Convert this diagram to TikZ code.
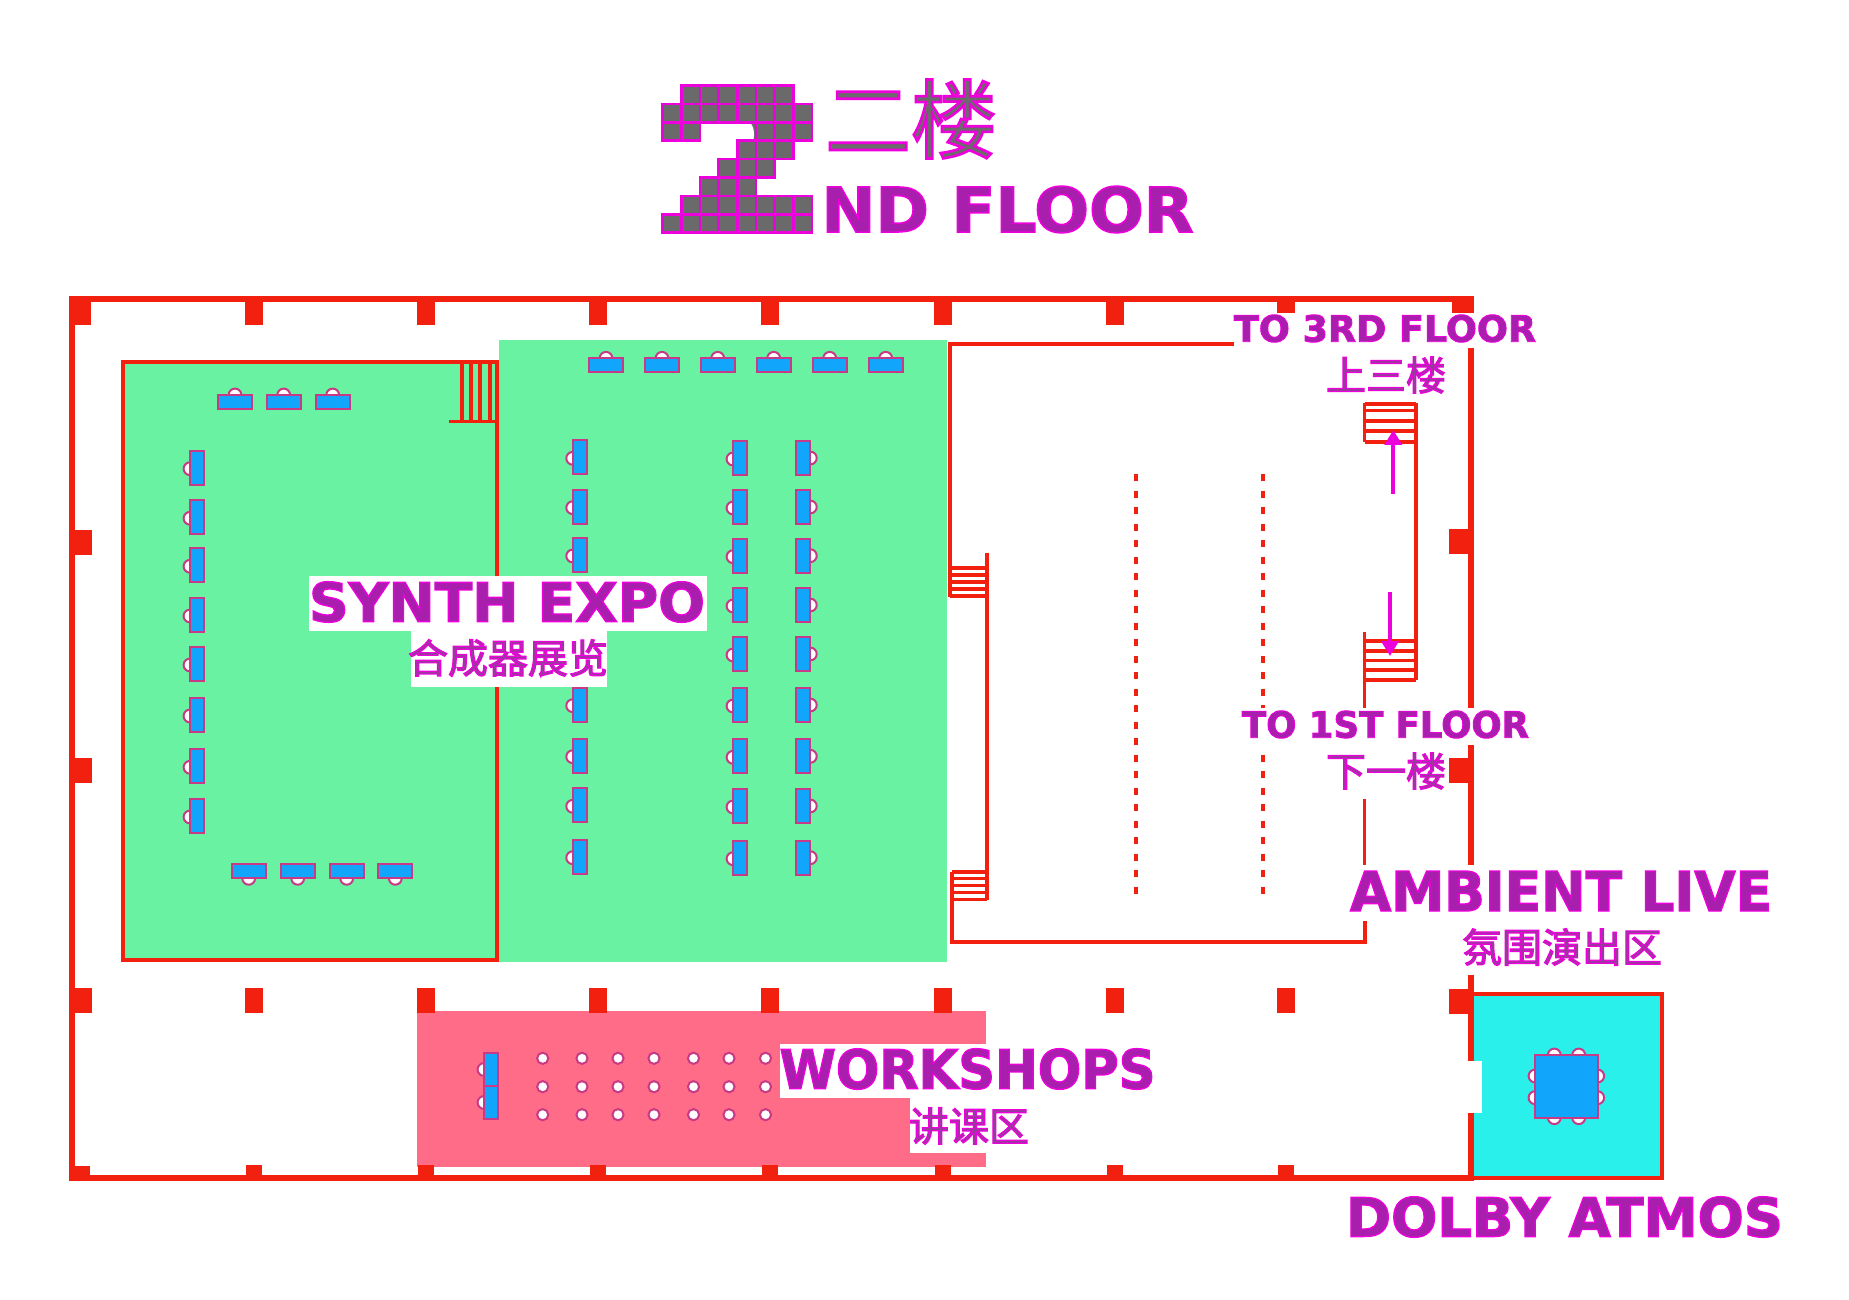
\documentclass[tikz,border=0pt]{standalone}
\usepackage{fontspec}
\usepackage{graphicx}
\usetikzlibrary{arrows.meta}
\newfontfamily\pixfont[FakeBold=2.5]{DejaVu Sans Bold}
\newfontfamily\cjkfont[FakeBold=3]{Noto Sans CJK SC}
\newfontfamily\plainfont{DejaVu Sans}
\definecolor{wallred}{HTML}{F2200F}
\definecolor{expogreen}{HTML}{68F2A2}
\definecolor{workpink}{HTML}{FF6C87}
\definecolor{atmoscyan}{HTML}{2AF0EC}
\definecolor{deskblue}{HTML}{12A5FC}
\definecolor{deskedge}{HTML}{C93A86}
\definecolor{pixmag}{HTML}{EC00DC}
\definecolor{pixgray}{HTML}{6A6A6A}
\newcommand{\pixpaint}[1]{\special{pdf:bcolor [0.66 0.12 0.68] [0.93 0 0.86]}#1\special{pdf:ecolor}}
\newcommand{\cjkpaint}[1]{\special{pdf:bcolor [0.58 0.24 0.60] [0.93 0 0.86]}#1\special{pdf:ecolor}}
\newcommand{\titlepaint}[1]{\special{pdf:bcolor [0.42 0.42 0.42] [0.93 0 0.86]}#1\special{pdf:ecolor}}
\newcommand{\pixbox}[3]{\resizebox{#1}{#2}{\pixfont\pixpaint{#3}}}
\tikzset{
	wall_line/.style = {
		draw=wallred,
		line width=3pt,
		line join=miter
	},
	room_line/.style = {
		draw=wallred,
		line width=2pt
	},
	stair_line/.style = {
		draw=wallred,
		line width=1.8pt
	},
	dash_line/.style = {
		draw=wallred,
		line width=2pt,
		dash pattern=on 3.5pt off 4.75pt
	},
	pillar/.style = {
		fill=wallred
	},
	desk_top/.style = {
		draw=deskedge,
		fill=deskblue,
		line width=1pt
	},
	chair/.style = {
		draw=deskedge,
		fill=white,
		line width=1pt
	},
	pix_cell/.style = {
		draw=pixmag,
		fill=pixgray,
		line width=1.3pt
	},
	label_bg/.style = {
		fill=white
	},
	pix_label/.style = {
		inner sep=0pt,
		anchor=center
	},
	cjk_label/.style = {
		pix_label,
		font=\cjkfont\fontsize{20}{24}\selectfont
	},
	move_arrow/.style = {
		draw=pixmag,
		fill=pixmag,
		line width=2pt,
		-{Triangle[length=7.5pt,width=8.5pt]}
	},
	desk_n/.pic = {
		\draw[chair] (0,-7) circle [radius=3.2pt];
		\draw[desk_top] (-17,-7) rectangle (17,7);
	},
	desk_s/.pic = {
		\draw[chair] (0,7) circle [radius=3.2pt];
		\draw[desk_top] (-17,-7) rectangle (17,7);
	},
	desk_w/.pic = {
		\draw[chair] (-7,1) circle [radius=3.2pt];
		\draw[desk_top] (-7,-17) rectangle (7,17);
	},
	desk_e/.pic = {
		\draw[chair] (7,0) circle [radius=3.2pt];
		\draw[desk_top] (-7,-17) rectangle (7,17);
	},
}
\begin{document}
\begin{tikzpicture}[x=0.5pt,y=-0.5pt]
\useasboundingbox (0,0) rectangle (1849,1300);

\fill[expogreen] (123,362) rectangle (497,960);
\fill[expogreen] (499,340) rectangle (947,962);
\fill[workpink] (416.5,1011) rectangle (986,1167);
\fill[atmoscyan] (1471,994) rectangle (1662,1178);

\draw[wall_line] (72,299) rectangle (1471,1178);
\draw[room_line] (123,362) rectangle (497,960);
\draw[room_line] (1662,994) -- (1662,1178);
\draw[room_line] (1471,994) -- (1664,994);
\draw[room_line] (1471,1178) -- (1664,1178);

\fill[pillar] (69,296) rectangle (90.5,325);
\fill[pillar] (1452,296) rectangle (1474,313);
\foreach \px in {254,426,598,770,943,1115,1286} {
	\fill[pillar] (\px-9.3,296) rectangle (\px+9.3,325);
	\fill[pillar] (\px-9.3,988) rectangle (\px+9.3,1013);
	\fill[pillar] (\px-8.2,1165) rectangle (\px+8.2,1176);
}
\foreach \py in {530,758,988} {
	\fill[pillar] (69,\py) rectangle (91.5,\py+25);
}
\fill[pillar] (69,1166) rectangle (90,1181);
\foreach \py in {529,758,989} {
	\fill[pillar] (1449,\py) rectangle (1470,\py+24.5);
}
\fill[white] (1467,1060.7) rectangle (1481.7,1112.7);

\draw[stair_line] (449,421.7) -- (497,421.7);
\foreach \sx in {461.7,471,480,490} {
	\draw[stair_line] (\sx,362) -- (\sx,421.7);
}

\draw[room_line] (1234,344) -- (950,344) -- (950,597);
\draw[stair_line] (987,552.7) -- (987,900);
\foreach \sy in {568,575,582,589,596} {
	\draw[stair_line] (950,\sy) -- (987,\sy);
}
\foreach \sy in {871.7,878.6,885.6,892.6,899.6} {
	\draw[stair_line] (952,\sy) -- (987,\sy);
}
\draw[room_line] (952,872) -- (952,942.3) -- (1364.5,942.3) -- (1364.5,921);
\draw[stair_line] (1364.5,403) -- (1364.5,442);
\draw[stair_line] (1364.5,632) -- (1364.5,865);
\draw[stair_line] (1415.7,403) -- (1415.7,680);
\foreach \sy in {404,410.7,421,431,442,641,650.7,660.5,670,680} {
	\draw[stair_line] (1364.5,\sy) -- (1415.7,\sy);
}
\foreach \dx in {1136,1263} {
	\draw[dash_line] (\dx,474) -- (\dx,896);
}

\foreach \tx in {235,283.7,332.7} {
	\pic at (\tx,402) {desk_n};
}
\foreach \ty in {467.7,517.3,565.3,615,664,715,766.3,816} {
	\pic at (197,\ty) {desk_w};
}
\foreach \tx in {248.7,297.7,346.7,395.3} {
	\pic at (\tx,871.3) {desk_s};
}
\foreach \tx in {606,662,717.7,773.7,829.7,885.7} {
	\pic at (\tx,365.3) {desk_n};
}
\foreach \ty in {457.3,506.7,555,704.7,755.7,805.3,856.7} {
	\pic at (579.7,\ty) {desk_w};
}
\foreach \ty in {458,507,555.7,605,654,705,756.3,806,857.7} {
	\pic at (740,\ty) {desk_w};
	\pic at (803.3,\ty) {desk_e};
}
\foreach \ty in {1069.5,1102.5} {
	\draw[chair] (484,\ty) circle [radius=3.2pt];
	\draw[desk_top] (484,\ty-16.5) rectangle (498.4,\ty+16.5);
}
\foreach \tx in {542.7,582,618,654,693.5,729,765.5} {
	\foreach \ty in {1058.3,1086.7,1114.7} {
		\draw[chair] (\tx,\ty) circle [radius=2.8pt];
	}
}
\foreach \cs in {1554.3,1578.7} {
	\draw[chair] (\cs,1055) circle [radius=3.2pt];
	\draw[chair] (\cs,1117.7) circle [radius=3.2pt];
}
\foreach \cs in {1076,1097.7} {
	\draw[chair] (1535,\cs) circle [radius=3.2pt];
	\draw[chair] (1597.7,\cs) circle [radius=3.2pt];
}
\draw[desk_top] (1535,1055) rectangle (1597.7,1117.7);

\coordinate (upStart) at (1393.3,494);
\coordinate (upEnd) at (1393.3,430);
\coordinate (downStart) at (1390,592);
\coordinate (downEnd) at (1390,656);
\draw[move_arrow] (upStart) -- (upEnd);
\draw[move_arrow] (downStart) -- (downEnd);

\fill[label_bg] (1234,313) rectangle (1540,348);
\fill[label_bg] (1241,708) rectangle (1535,745);
\fill[label_bg] (1328,745) rectangle (1447,799);
\fill[label_bg] (1350,865) rectangle (1775,921);
\fill[label_bg] (1465,921) rectangle (1660,975);
\fill[label_bg] (309,576) rectangle (707,631);
\fill[label_bg] (411,631) rectangle (607,687);
\fill[label_bg] (780,1044) rectangle (1160,1098);
\fill[label_bg] (910,1098) rectangle (1030,1153);

\node[pix_label,text=pixgray] (floorNum) at (737,160) {\resizebox{50pt}{58pt}{\plainfont 2}};
\foreach \row/\cols in {0/{1,2,3,4,5,6},1/{0,1,2,3,4,5,6,7},2/{0,1,5,6,7},3/{4,5,6},4/{3,4,5},5/{2,3,4},6/{1,2,3,4,5,6,7},7/{0,1,2,3,4,5,6,7}} {
	\foreach \col in \cols {
		\draw[pix_cell] (662.5+\col*18.7,85.5+\row*18.4) rectangle +(18.7,18.4);
	}
}

\node[pix_label] (floorEn) at (1007.5,209.5) {\pixbox{186pt}{23pt}{ND FLOOR}};
\node[cjk_label,font=\cjkfont\fontsize{43}{50}\selectfont] (floorCn) at (911,119) {\titlepaint{二楼}};
\node[pix_label] (synthEn) at (507,602) {\pixbox{198pt}{20pt}{SYNTH EXPO}};
\node[cjk_label] (synthCn) at (508,658) {\cjkpaint{合成器展览}};
\node[pix_label] (workEn) at (967.5,1069) {\pixbox{188pt}{20pt}{WORKSHOPS}};
\node[cjk_label] (workCn) at (969,1126) {\cjkpaint{讲课区}};
\node[pix_label] (upEn) at (1385,328.5) {\pixbox{151pt}{13.5pt}{TO 3RD FLOOR}};
\node[cjk_label] (upCn) at (1386,375) {\cjkpaint{上三楼}};
\node[pix_label] (downEn) at (1385.5,724.5) {\pixbox{143.5pt}{13.5pt}{TO 1ST FLOOR}};
\node[cjk_label] (downCn) at (1386,771) {\cjkpaint{下一楼}};
\node[pix_label] (ambientEn) at (1561,891) {\pixbox{211pt}{20pt}{AMBIENT LIVE}};
\node[cjk_label] (ambientCn) at (1562,947) {\cjkpaint{氛围演出区}};
\node[pix_label] (dolbyEn) at (1564.5,1217) {\pixbox{218.5pt}{20pt}{DOLBY ATMOS}};
\end{tikzpicture}
\end{document}
